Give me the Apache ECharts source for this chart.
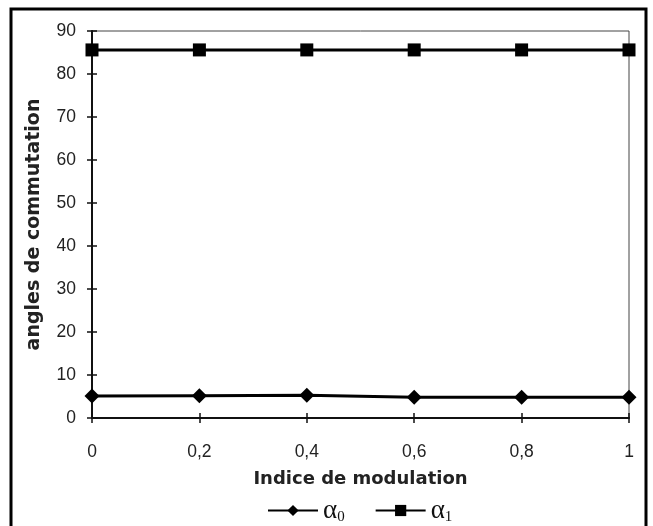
<!DOCTYPE html>
<html><head><meta charset="utf-8">
<script src="https://cdn.jsdelivr.net/npm/echarts@6/dist/echarts.min.js"></script>
<style>html,body{margin:0;padding:0;background:#fff}#c{width:653px;height:526px}</style>
</head><body><div id="c"></div>
<script>
const xValues = [0, 0.2, 0.4, 0.6, 0.8, 1];
const alpha0 = [5.1, 5.2, 5.3, 4.8, 4.8, 4.8];
const alpha1 = [85.6, 85.6, 85.6, 85.6, 85.6, 85.6];
const seriesNames = ['α0', 'α1'];
const xTitle = 'Indice de modulation';
const yTitle = 'angles de commutation';

const chart = echarts.init(document.getElementById('c'));
const font = 'Liberation Sans, Arial, sans-serif';
const titleFont = 'DejaVu Sans, sans-serif';
const serif = 'Liberation Serif, Times New Roman, serif';
const yBase = {type:'value', min:0, max:90, interval:10, splitLine:{show:false}};
const xBase = {type:'value', min:0, max:1, interval:0.2, splitLine:{show:false}};
chart.setOption({
  animation:false,
  graphic:[{type:'rect', shape:{x:11, y:9, width:635, height:530}, style:{fill:'none', stroke:'#000', lineWidth:3}, z:-1}],
  grid:{left:92, right:24, top:31, bottom:108, show:true, borderColor:'#444', borderWidth:1},
  legend:{
    top:492, left:262, itemWidth:50, itemHeight:14, itemGap:30,
    data: seriesNames,
    formatter: function(n){ return '{a|α}{s|' + n.slice(1) + '}'; },
    textStyle:{ rich:{
      a:{fontFamily:serif, fontSize:27, color:'#111'},
      s:{fontFamily:serif, fontSize:15, color:'#111', padding:[14,0,0,0]}
    }}
  },
  xAxis:[
    Object.assign({}, xBase, {
      name:xTitle, nameLocation:'middle', nameGap:52,
      nameTextStyle:{fontFamily:titleFont, fontWeight:'bold', fontSize:18, color:'#222'},
      axisLine:{lineStyle:{color:'#111', width:2}},
      axisTick:{length:5, lineStyle:{color:'#111', width:1.5}},
      axisLabel:{margin:25, fontFamily:font, fontSize:17.5, color:'#222',
        formatter:function(v){return String(+v.toFixed(1)).replace('.', ',');}}
    }),
    Object.assign({}, xBase, {position:'bottom', axisLine:{show:false},
      axisTick:{inside:true, length:5, lineStyle:{color:'#111', width:1.5}}, axisLabel:{show:false}})
  ],
  yAxis:[
    Object.assign({}, yBase, {
      name:yTitle, nameLocation:'middle', nameGap:48, nameRotate:90,
      nameTextStyle:{fontFamily:titleFont, fontWeight:'bold', fontSize:19, color:'#222'},
      axisLine:{lineStyle:{color:'#111', width:2}},
      axisTick:{length:5, lineStyle:{color:'#111', width:1.5}},
      axisLabel:{margin:16, fontFamily:font, fontSize:17.5, color:'#222'}
    }),
    Object.assign({}, yBase, {position:'left', axisLine:{show:false},
      axisTick:{inside:true, length:5, lineStyle:{color:'#111', width:1.5}}, axisLabel:{show:false}})
  ],
  series:[
    {name:seriesNames[0], type:'line', data:xValues.map((x,i)=>[x, alpha0[i]]),
      symbol:'diamond', symbolSize:15, lineStyle:{color:'#000', width:3}, itemStyle:{color:'#000'}, z:3},
    {name:seriesNames[1], type:'line', data:xValues.map((x,i)=>[x, alpha1[i]]),
      symbol:'rect', symbolSize:13, lineStyle:{color:'#000', width:3}, itemStyle:{color:'#000'}, z:3}
  ]
});
</script></body></html>
